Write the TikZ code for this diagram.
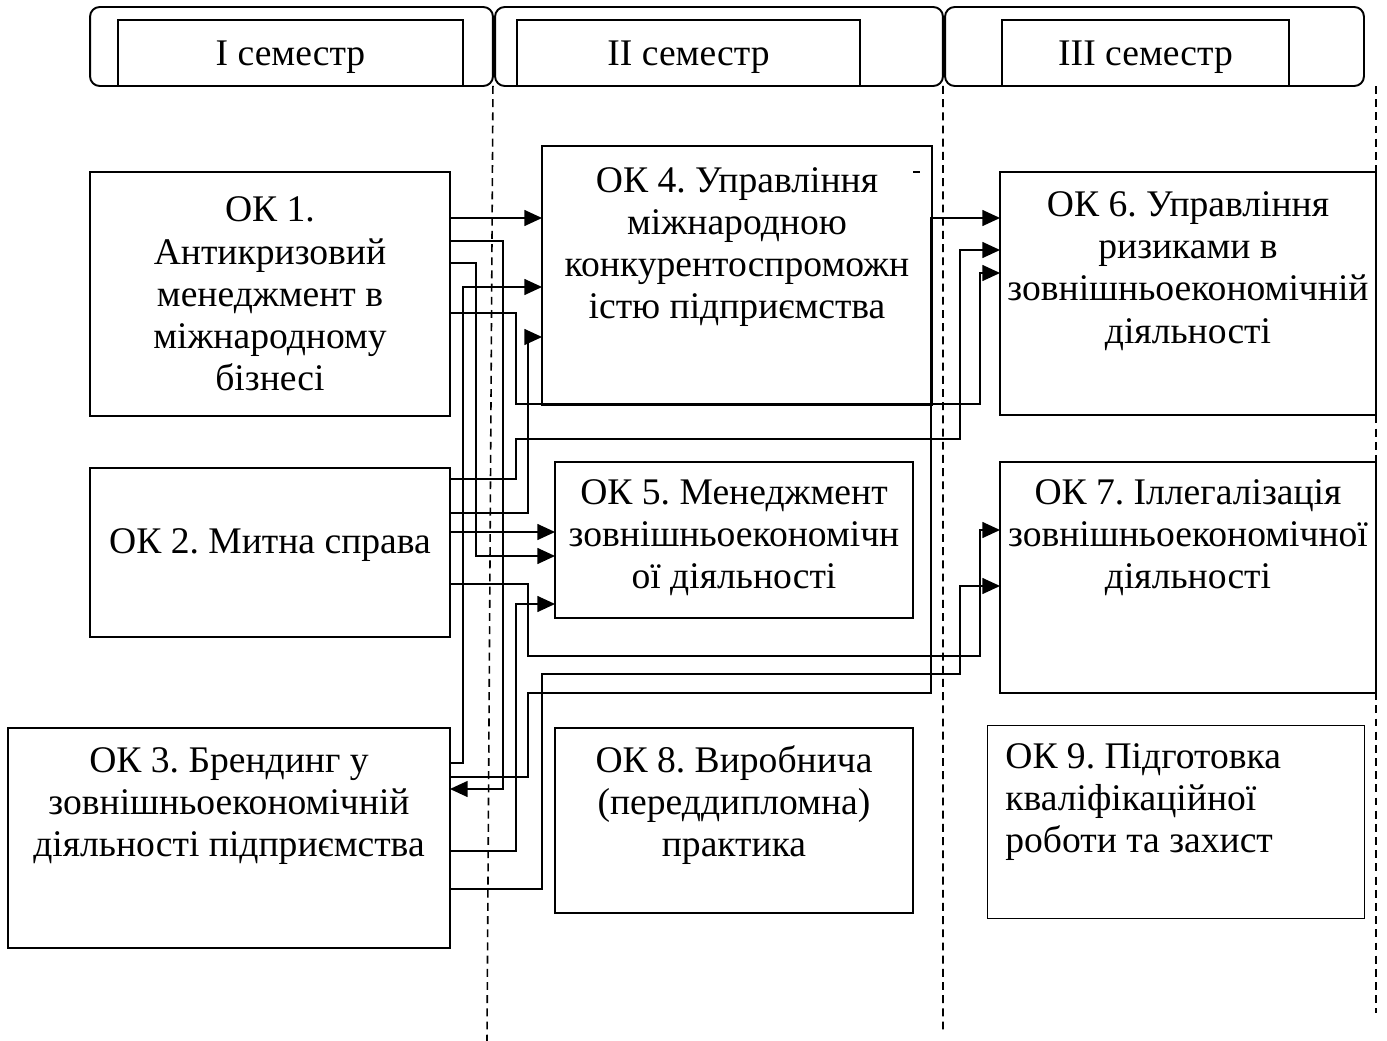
\documentclass[tikz,border=0pt]{standalone}
\usepackage{fontspec}
\setmainfont{Liberation Serif}
\usetikzlibrary{arrows.meta}
\frenchspacing
\tikzset{
  box/.style={draw,line width=1.1pt,inner sep=0pt,outer sep=0pt},
  txt/.style={align=center,inner sep=0pt,font=\fontsize{21.4}{24}\selectfont},
  link/.style={line width=0.9pt},
  arr/.style={link,-{Triangle[length=10pt,width=9pt]}},
  sep/.style={line width=0.9pt,dash pattern=on 4.5pt off 3pt}
}
\begin{document}
\begin{tikzpicture}[x=0.02cm,y=-0.02cm]
        \useasboundingbox (0,0) rectangle (1387,1041);
        %% semesters
        \foreach \n/\ox/\ow/\ix/\iw/\t in {1/291.5/8.06/290.5/6.9/I,2/719/8.96/688.5/6.86/II,3/1154.5/8.38/1145.5/5.74/III} {
            \node[box,rounded corners=5.5pt,minimum width=\ow cm,minimum height=1.58cm] (sem\n) at (\ox,46.5) {};
            \node[box,minimum width=\iw cm,minimum height=1.32cm,txt,text height=18.7pt,text depth=4.7pt] (semt\n) at (\ix,53) {\t\ семестр};
        }
        \draw[sep] (sem1.south east) -- (487,1041);
        \draw[sep] (sem2.south east) -- (943,1030);
        \draw[sep] (1376,86) -- (1376,1013);
        %% disciplines
        \node[box,minimum width=7.2cm,minimum height=4.88cm] (ok1) at (270,294) {};
        \node[box,minimum width=7.2cm,minimum height=3.38cm] (ok2) at (270,552.5) {};
        \node[box,minimum width=8.84cm,minimum height=4.4cm] (ok3) at (229,838) {};
        \node[box,minimum width=7.8cm,minimum height=5.18cm] (ok4) at (737,275.5) {};
        \node[box,minimum width=7.16cm,minimum height=3.12cm] (ok5) at (734,540) {};
        \node[box,minimum width=7.52cm,minimum height=4.86cm] (ok6) at (1188,293.5) {};
        \node[box,minimum width=7.52cm,minimum height=4.62cm] (ok7) at (1188,577.5) {};
        \node[box,minimum width=7.16cm,minimum height=3.7cm] (ok8) at (734,820.5) {};
        \node[box,line width=0.5pt,minimum width=7.54cm,minimum height=3.86cm] (ok9) at (1175.5,821.5) {};
        \draw[line width=1.1pt] (913,172) -- (920,172);
        \node[txt] (ok1t) at (270,294) {ОК 1.\\Антикризовий\\менеджмент в\\міжнародному\\бізнесі};
        \node[txt] (ok2t) at (270,545) {ОК 2. Митна справа};
        \node[txt] (ok3t) at (229,806) {ОК 3. Брендинг у\\зовнішньоекономічній\\діяльності підприємства};
        \node[txt] (ok4t) at (737,247) {ОК 4. Управління\\міжнародною\\конкурентоспроможн\\істю підприємства};
        \node[txt] (ok5t) at (734,538) {ОК 5. Менеджмент\\зовнішньоекономічн\\ої діяльності};
        \node[txt] (ok6t) at (1188,271) {ОК 6. Управління\\ризиками в\\зовнішньоекономічній\\діяльності};
        \node[txt] (ok7t) at (1188,538) {ОК 7. Іллегалізація\\зовнішньоекономічної\\діяльності};
        \node[txt] (ok8t) at (734,805) {ОК 8. Виробнича\\(переддипломна)\\практика};
        \node[txt,align=left,anchor=west] (ok9t) at (1005,802) {ОК 9. Підготовка\\кваліфікаційної\\роботи та захист};
        %% links from I semester
        \draw[arr] (ok1.east |- 0,218) -- (ok4.west |- 0,218);
        \draw[arr] (ok1.east |- 0,241) -- (503,241) -- (503,789) -- (ok3.east |- 0,789);
        \draw[arr] (ok1.east |- 0,263) -- (476,263) -- (476,556) -- (ok5.west |- 0,556);
        \draw[arr] (ok1.east |- 0,313) -- (516,313) -- (516,404) -- (980,404) -- (980,273) -- (ok6.west |- 0,273);
        \draw[arr] (ok2.east |- 0,479) -- (516,479) -- (516,439) -- (960,439) -- (960,250) -- (ok6.west |- 0,250);
        \draw[arr] (ok2.east |- 0,513) -- (528,513) -- (528,337) -- (ok4.west |- 0,337);
        \draw[arr] (ok2.east |- 0,532) -- (ok5.west |- 0,532);
        \draw[arr] (ok2.east |- 0,584) -- (528,584) -- (528,656) -- (980,656) -- (980,530) -- (ok7.west |- 0,530);
        \draw[arr] (ok3.east |- 0,763) -- (463,763) -- (463,287) -- (ok4.west |- 0,287);
        \draw[arr] (ok3.east |- 0,777) -- (528,777) -- (528,693) -- (931,693) -- (931,218) -- (ok6.west |- 0,218);
        \draw[arr] (ok3.east |- 0,851) -- (516,851) -- (516,604) -- (ok5.west |- 0,604);
        \draw[arr] (ok3.east |- 0,889) -- (542,889) -- (542,674) -- (960,674) -- (960,586) -- (ok7.west |- 0,586);
    \end{tikzpicture}
\end{document}
